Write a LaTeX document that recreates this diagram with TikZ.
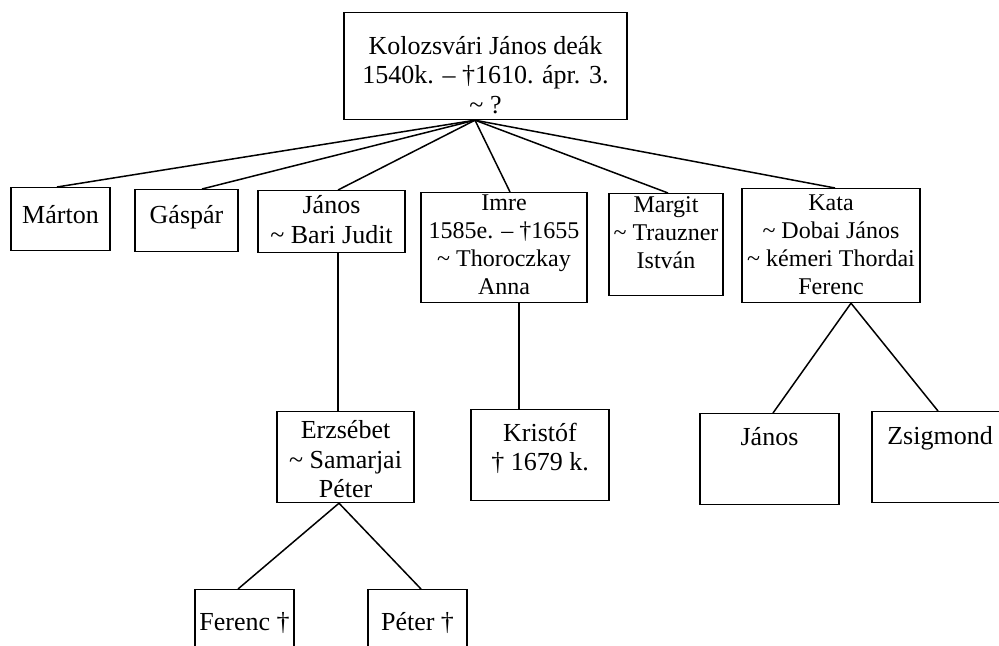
\documentclass[tikz,border=0pt]{standalone}
\usepackage{fontspec}
\setmainfont{Liberation Serif}
\usetikzlibrary{calc}
\newcommand{\wed}{\textasciitilde{} }

\begin{document}
\begin{tikzpicture}[x=0.5pt, y=-0.5pt,
        person/.style={draw, line width=0.6pt, align=center, anchor=north,
            inner xsep=0pt, inner ysep=0pt,
            font=\fontsize{13pt}{14.8pt}\selectfont},
        smallperson/.style={person, font=\fontsize{12pt}{14pt}\selectfont},
        tie/.style={line width=0.75pt}]
        \useasboundingbox (0, 0) rectangle (999, 646);
        \clip (0, 0) rectangle (999, 646);

        \node (kolozsvari) at (485.5, 12) [person, minimum width=141.5pt, text height=50.5pt, text depth=3pt]
            {Kolozsvári János deák\\1540k. – †1610. ápr. 3.\\\wed?};
        \coordinate (hub) at ($(kolozsvari.south)+(-10.5, 0)$);

        \node (marton) at (60.5, 187) [person, minimum width=49.5pt, text height=18pt, text depth=13.5pt] {Márton};
        \node (gaspar) at (186.5, 189) [person, minimum width=51.5pt, text height=17pt, text depth=14pt] {Gáspár};
        \node (janos) at (331.5, 190) [person, minimum width=73.5pt, text height=26.5pt, text depth=4.5pt]
            {János\\\wed Bari Judit};
        \node (imre) at (504, 192) [smallperson, minimum width=83pt, text height=51pt, text depth=4pt]
            {Imre\\1585e. – †1655\\\wed Thoroczkay\\Anna};
        \node (margit) at (666, 193) [smallperson, minimum width=57pt, text height=37.5pt, text depth=13.5pt]
            {Margit\\\wed Trauzner\\István};
        \node (kata) at (831, 188) [smallperson, minimum width=89pt, text height=53pt, text depth=4pt]
            {Kata\\\wed Dobai János\\\wed kémeri Thordai\\Ferenc};

        \node (erzsebet) at (345.5, 411) [person, minimum width=68.5pt, text height=43pt, text depth=2.5pt]
            {Erzsébet\\\wed Samarjai\\Péter};
        \node (kristof) at (540, 409) [person, minimum width=69pt, text height=30.5pt, text depth=15pt]
            {Kristóf\\† 1679 k.};
        \node (katajanos) at (769.5, 413) [person, minimum width=69.5pt, text height=16pt, text depth=29.5pt] {János};
        \node (zsigmond) at (940, 411) [person, minimum width=68pt, text height=16.5pt, text depth=29pt] {Zsigmond};

        \node (ferenc) at (244.5, 589) [person, minimum width=49.5pt, text height=20.5pt, text depth=25pt] {Ferenc †};
        \node (peter) at (417.5, 589) [person, minimum width=49.5pt, text height=20.5pt, text depth=25pt] {Péter †};

        % children of Kolozsvári János
        \draw [tie] (hub) -- ($(marton.north)+(-3.5, 0)$);
        \draw [tie] (hub) -- ($(gaspar.north)+(15.5, 0)$);
        \draw [tie] (hub) -- ($(janos.north)+(6.5, 0)$);
        \draw [tie] (hub) -- ($(imre.north)+(6, 0)$);
        \draw [tie] (hub) -- ($(margit.north)+(2, 0)$);
        \draw [tie] (hub) -- ($(kata.north)+(4, 0)$);

        % grandchildren
        \draw [tie] ($(janos.south)+(6.5, 0)$) -- ($(erzsebet.north)+(-7.5, 0)$);
        \draw [tie] ($(imre.south)+(15, 0)$) -- ($(kristof.north)+(-21, 0)$);
        \draw [tie] ($(kata.south)+(20, 0)$) -- ($(katajanos.north)+(3.5, 0)$);
        \draw [tie] ($(kata.south)+(20, 0)$) -- ($(zsigmond.north)+(-2, 0)$);
        \draw [tie] ($(erzsebet.south)+(-6.5, 0)$) -- ($(ferenc.north)+(-6.5, 0)$);
        \draw [tie] ($(erzsebet.south)+(-6.5, 0)$) -- ($(peter.north)+(3.5, 0)$);
\end{tikzpicture}
\end{document}
